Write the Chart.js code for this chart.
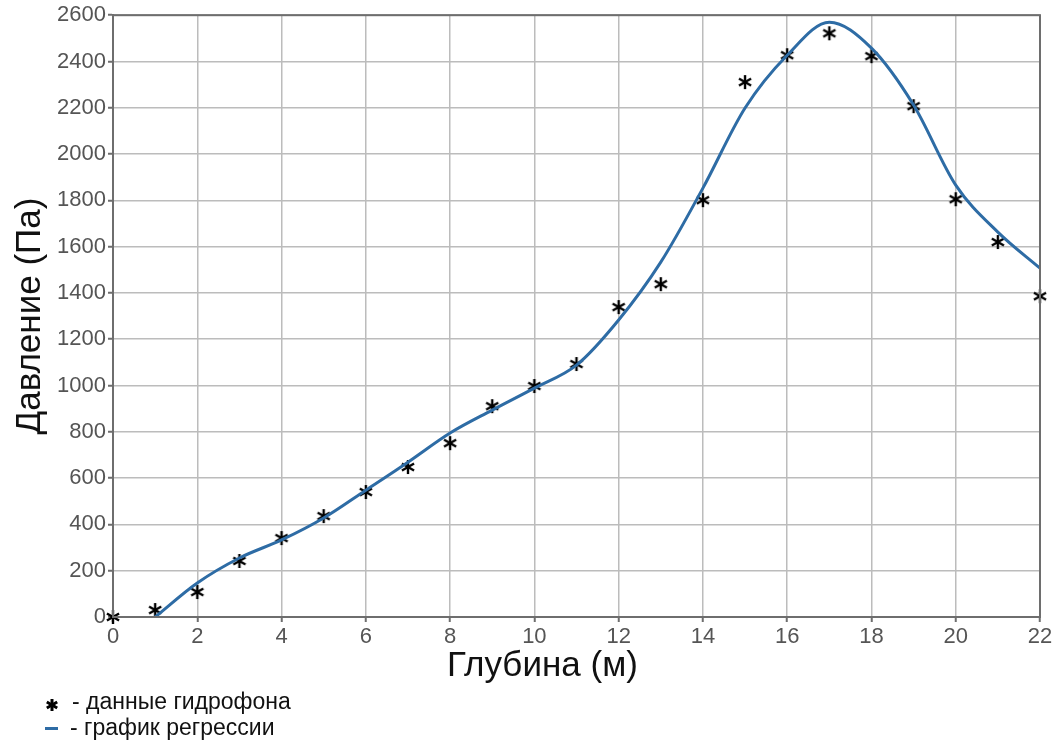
<!DOCTYPE html>
<html>
<head>
<meta charset="utf-8">
<script src="https://cdn.jsdelivr.net/npm/chart.js@4/dist/chart.umd.min.js"></script>
<style>
  html, body { margin: 0; padding: 0; background: #fff; }
  #wrap { position: relative; width: 1056px; height: 744px; }
  #chart { position: absolute; left: 0; top: 0; }
  .legend { position: absolute; font-family: "Liberation Sans", Arial, sans-serif; font-size: 23px; color: #111; white-space: nowrap; line-height: 26px; }
  .mark { position: absolute; left: 0; }
  .txt { position: absolute; left: 27px; top: 0; }
</style>
</head>
<body>
<div id="wrap">
  <canvas id="chart" width="1056" height="690"></canvas>
  <div class="legend" style="left:45px; top:688px;"><canvas id="legStar" class="mark" width="14" height="14" style="top:10px;"></canvas><span class="txt">- данные гидрофона</span></div>
  <div class="legend" style="left:45px; top:714px;"><span class="mark" style="top:13px; width:13px; height:3px; background:#2e6ca5;"></span><span class="txt" style="left:25px;">- график регрессии</span></div>
</div>
<script>
// hydrophone readings
const depth = [0, 1, 2, 3, 4, 5, 6, 7, 8, 9, 10, 11, 12, 13, 14, 15, 16, 17, 18, 19, 20, 21, 22];
const pressure = [0, 30, 108, 242, 341, 436, 540, 648, 751, 911, 998, 1093, 1339, 1438, 1801, 2311, 2427, 2522, 2423, 2207, 1805, 1620, 1386];

// regression curve
const regDepth = [1, 2, 3, 4, 5, 6, 7, 8, 9, 10, 11, 12, 13, 14, 15, 16, 17, 18, 19, 20, 21, 22];
const regPressure = [0, 147, 255, 333, 428, 548, 669, 795, 894, 989, 1088, 1283, 1533, 1853, 2199, 2427, 2570, 2458, 2212, 1866, 1663, 1507];

// 6-arm asterisk
function drawStar(cv, w) {
  const c = cv.getContext('2d');
  const m = cv.width / 2, r = m - 1;
  c.strokeStyle = '#000';
  c.lineWidth = w;
  for (let i = 0; i < 3; i++) {
    const a = Math.PI / 2 + i * Math.PI / 3;
    c.beginPath();
    c.moveTo(m + Math.cos(a) * r, m - Math.sin(a) * r);
    c.lineTo(m - Math.cos(a) * r, m + Math.sin(a) * r);
    c.stroke();
  }
}
const star = document.createElement('canvas');
star.width = 16; star.height = 16;
drawStar(star, 2.4);
drawStar(document.getElementById('legStar'), 3);

const frame = {
  id: 'frame',
  afterDraw(chart) {
    const { ctx, chartArea: a } = chart;
    ctx.save();
    ctx.strokeStyle = '#6e6e6e';
    ctx.lineWidth = 2;
    ctx.strokeRect(a.left, a.top, a.right - a.left, a.bottom - a.top);
    ctx.restore();
  }
};

const tickFont = { family: '"Liberation Sans", Arial, sans-serif', size: 22 };
const titleFont = { family: '"Liberation Sans", Arial, sans-serif', size: 35, lineHeight: 1 };

new Chart(document.getElementById('chart'), {
  type: 'line',
  data: {
    datasets: [
      {
        label: 'график регрессии',
        data: regDepth.map((x, i) => ({ x, y: regPressure[i] })),
        borderColor: '#2e6ca5',
        borderWidth: 3,
        pointRadius: 0,
        cubicInterpolationMode: 'monotone',
        fill: false
      },
      {
        label: 'данные гидрофона',
        type: 'scatter',
        data: depth.map((x, i) => ({ x, y: pressure[i] })),
        pointStyle: star,
        showLine: false,
        clip: false
      }
    ]
  },
  options: {
    responsive: false,
    animation: false,
    layout: { padding: { top: 15, right: 16, bottom: 0, left: 0 } },
    plugins: { legend: { display: false }, tooltip: { enabled: false } },
    scales: {
      x: {
        type: 'linear',
        min: 0, max: 22,
        ticks: { stepSize: 2, color: '#555', font: tickFont, padding: 2, maxRotation: 0 },
        grid: { color: '#bcbcbc', lineWidth: 1.5, tickLength: 5, tickColor: '#6e6e6e', tickWidth: 2 },
        border: { color: '#6e6e6e', width: 2 },
        title: { display: true, text: 'Глубина (м)' + '\u00A0'.repeat(7), color: '#111', font: titleFont, padding: { top: 0, bottom: 6 } },
        afterFit(s) { s.height = 73; }
      },
      y: {
        min: 0, max: 2600,
        ticks: { stepSize: 200, color: '#555', font: tickFont, padding: 2, callback: v => String(v) },
        grid: { color: '#bcbcbc', lineWidth: 1.5, tickLength: 5, tickColor: '#6e6e6e', tickWidth: 2 },
        border: { color: '#6e6e6e', width: 2 },
        title: { display: true, text: 'Давление (Па)', color: '#111', font: titleFont, padding: { top: 13, bottom: 0 } },
        afterFit(s) { s.width = 113; }
      }
    }
  },
  plugins: [frame]
});
</script>
</body>
</html>
